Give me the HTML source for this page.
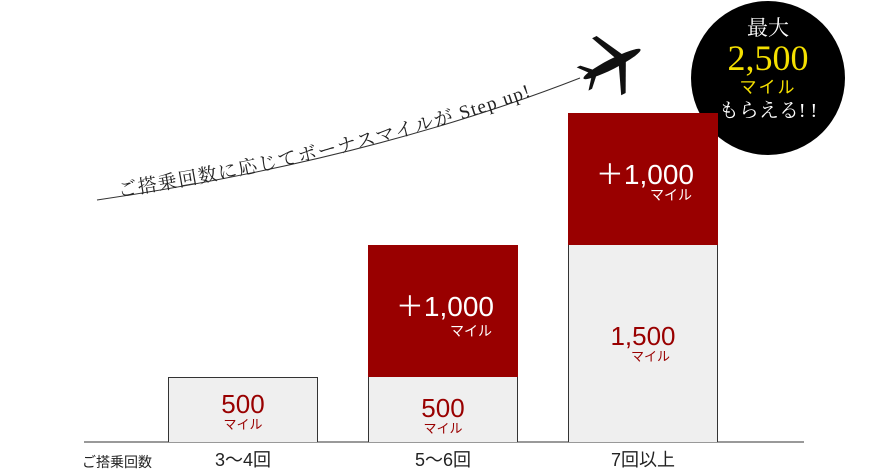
<!DOCTYPE html>
<html><head><meta charset="utf-8"><style>
body{margin:0;width:889px;height:473px;background:#fff;overflow:hidden;position:relative;font-family:"Liberation Sans","Noto Sans CJK JP",sans-serif}
.b{position:absolute;box-sizing:border-box}
.g{background:#efefef;border:1px solid #333;border-bottom:none}
.r{background:#990000}
.t{position:absolute;text-align:center;line-height:1}
</style></head><body>
<svg width="889" height="473" style="position:absolute;left:0;top:0">
<defs><path id="cv" d="M97,200 Q370,160 580,78"/></defs>
<path d="M97,200 Q370,160 580,78" fill="none" stroke="#333" stroke-width="1"/>
<text font-family="Liberation Serif,Noto Serif CJK SC,serif" font-size="19" letter-spacing="1.4" fill="#222"><textPath href="#cv" startOffset="22">ご搭乗回数に応じてボーナスマイルが Step up!</textPath></text>
<g transform="translate(612,64) rotate(-27)" fill="#111">
<ellipse cx="0" cy="0" rx="32" ry="5"/>
<path d="M6,-3 L-6,-32 L-1,-32 L14,-3Z"/>
<path d="M6,3 L-6,32 L-1,32 L14,3Z"/>
<path d="M-24,-2 L-33,-13 L-29,-13 L-18,-2Z"/>
<path d="M-24,2 L-33,13 L-29,13 L-18,2Z"/>
</g>
<circle cx="768" cy="78" r="77" fill="#000"/>
<path d="M686,131 L710,100 L725,125Z" fill="#000"/>
<line x1="84" y1="442" x2="804" y2="442" stroke="#333" stroke-width="1"/>
</svg>
<div class="b g" style="left:168px;top:377px;width:150px;height:65px"></div>
<div class="b g" style="left:368px;top:377px;width:150px;height:65px;border-top:none"></div>
<div class="b r" style="left:368px;top:245px;width:150px;height:132px"></div>
<div class="b g" style="left:568px;top:245px;width:150px;height:197px;border-top:none"></div>
<div class="b r" style="left:568px;top:113px;width:150px;height:132px"></div>
<div class="t" style="left:168px;top:391px;width:150px;color:#990000;font-size:26px">500</div>
<div class="t" style="left:168px;top:418px;width:150px;color:#990000;font-size:13px">マイル</div>
<div class="t" style="left:368px;top:395px;width:150px;color:#990000;font-size:26px">500</div>
<div class="t" style="left:368px;top:422px;width:150px;color:#990000;font-size:13px">マイル</div>
<div class="t" style="left:368px;top:293px;width:126px;color:#fff;font-size:28px;text-align:right">＋1,000</div>
<div class="t" style="left:368px;top:324px;width:124px;color:#fff;font-size:14px;text-align:right">マイル</div>
<div class="t" style="left:568px;top:161px;width:126px;color:#fff;font-size:28px;text-align:right">＋1,000</div>
<div class="t" style="left:568px;top:188px;width:124px;color:#fff;font-size:14px;text-align:right">マイル</div>
<div class="t" style="left:568px;top:323px;width:150px;color:#990000;font-size:26px">1,500</div>
<div class="t" style="left:568px;top:350px;width:165px;color:#990000;font-size:13px">マイル</div>
<div class="t" style="left:691px;top:18px;width:154px;color:#fff;font-size:21px;font-family:'Liberation Serif','Noto Serif CJK SC',serif">最大</div>
<div class="t" style="left:691px;top:40px;width:154px;color:#f5e000;font-size:36px;font-family:'Liberation Serif','Noto Serif CJK SC',serif">2,500</div>
<div class="t" style="left:691px;top:79px;width:154px;color:#f5e000;font-size:17px;letter-spacing:2px">マイル</div>
<div class="t" style="left:691px;top:101px;width:154px;color:#fff;font-size:20px;font-family:'Liberation Serif','Noto Serif CJK SC',serif">もらえる! !</div>
<div class="t" style="left:82px;top:455px;color:#222;font-size:14px">ご搭乗回数</div>
<div class="t" style="left:168px;top:451px;width:150px;color:#222;font-size:18px">3〜4回</div>
<div class="t" style="left:368px;top:451px;width:150px;color:#222;font-size:18px">5〜6回</div>
<div class="t" style="left:568px;top:451px;width:150px;color:#222;font-size:18px">7回以上</div>
</body></html>
